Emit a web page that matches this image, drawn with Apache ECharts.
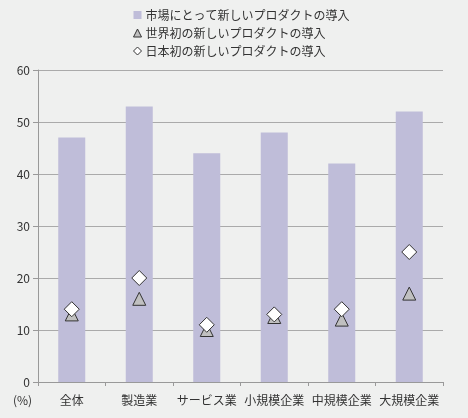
<!DOCTYPE html>
<html><head><meta charset="utf-8">
<script src="https://cdn.jsdelivr.net/npm/echarts@6/dist/echarts.min.js"></script>
<style>html,body{margin:0;padding:0;background:#eff0ef;}#c{width:468px;height:418px;}</style>
</head><body><div id="c"></div>
<script>
const categories = ['全体','製造業','サービス業','小規模企業','中規模企業','大規模企業'];
const marketNew = [47, 53, 44, 48, 42, 52];
const worldFirst = [13, 16, 10, 12.5, 12, 17];
const japanFirst = [14, 20, 11, 13, 14, 25];
const seriesNames = ['市場にとって新しいプロダクトの導入','世界初の新しいプロダクトの導入','日本初の新しいプロダクトの導入'];
const font = '"Noto Sans CJK JP", "Noto Sans", sans-serif';
const chart = echarts.init(document.getElementById('c'));
chart.setOption({
  backgroundColor: '#eff0ef',
  textStyle: {fontFamily: font},
  animation: false,
  legend: {
    orient: 'vertical', left: 128, top: 4, itemGap: 6, itemWidth: 8, itemHeight: 8,
    textStyle: {fontSize: 12, color: '#333', fontFamily: font, padding: [0, 0, 0, -1]},
    data: [
      {name: seriesNames[0], icon: 'rect', itemStyle: {color: '#bfbdd9'}},
      {name: seriesNames[1], icon: 'triangle', itemStyle: {color: '#c0c0c0', borderColor: '#333', borderWidth: 1}},
      {name: seriesNames[2], icon: 'diamond', itemStyle: {color: '#fff', borderColor: '#333', borderWidth: 1}}
    ]
  },
  grid: {left: 38, right: 25, top: 70, bottom: 36, containLabel: false},
  xAxis: {
    type: 'category', data: categories,
    axisLine: {lineStyle: {color: '#999'}},
    axisTick: {show: true, lineStyle: {color: '#999'}, length: 4},
    axisLabel: {color: '#333', fontSize: 12, margin: 12, fontFamily: font, interval: 0}
  },
  yAxis: {
    type: 'value', min: 0, max: 60, interval: 10,
    axisLine: {show: true, lineStyle: {color: '#999'}},
    axisTick: {show: true, inside: false, length: 5, lineStyle: {color: '#999'}},
    splitLine: {lineStyle: {color: '#aaa'}},
    axisLabel: {color: '#333', fontSize: 12, margin: 8}
  },
  graphic: [{type: 'text', left: 13, top: 394, style: {text: '(%)', fill: '#333', fontSize: 12, fontFamily: font}}],
  series: [
    {name: seriesNames[0], type: 'bar', data: marketNew, barWidth: 27, itemStyle: {color: '#bfbdd9'}},
    {name: seriesNames[1], type: 'scatter', data: worldFirst, symbol: 'triangle', symbolSize: 13,
      itemStyle: {color: '#c0c0c0', borderColor: '#333', borderWidth: 1, opacity: 1}, z: 3},
    {name: seriesNames[2], type: 'scatter', data: japanFirst, symbol: 'diamond', symbolSize: 15,
      itemStyle: {color: '#fff', borderColor: '#333', borderWidth: 1, opacity: 1}, z: 4}
  ]
});
</script></body></html>
